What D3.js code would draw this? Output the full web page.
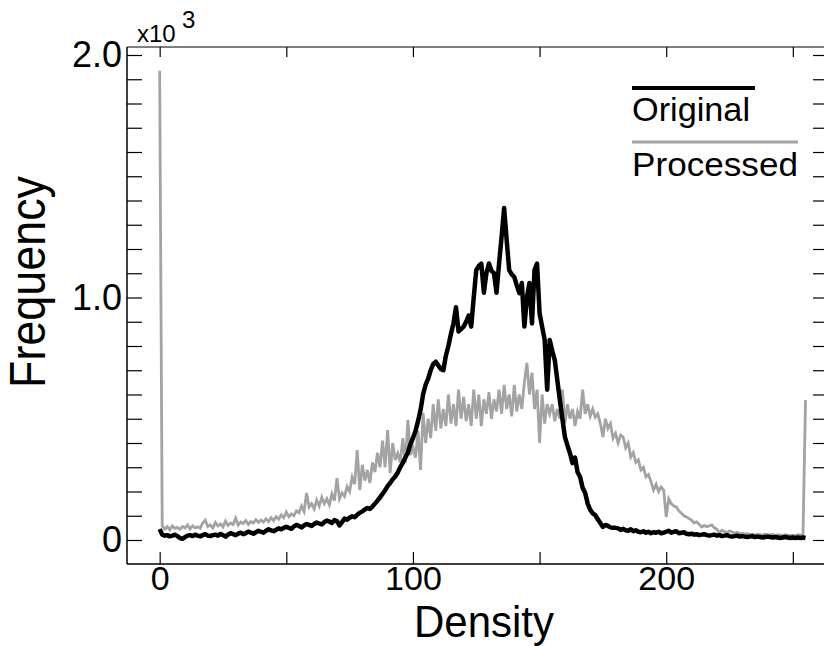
<!DOCTYPE html>
<html>
<head>
<meta charset="utf-8">
<script src="https://cdn.jsdelivr.net/npm/d3@7"></script>
<style>
  html, body { margin: 0; padding: 0; background: #fff; }
  svg { display: block; }
  text { font-family: "Liberation Sans", Arial, sans-serif; fill: #000; }
</style>
</head>
<body>
<svg id="chart" width="824" height="646"></svg>
<script>
// ---- data ----
const bins = d3.range(256);

const original = [
  45, 22, 18, 20, 15, 18, 22, 16, 8, 5,
  12, 18, 20, 16, 22, 18, 15, 20, 24, 18,
  16, 20, 22, 18, 25, 20, 14, 22, 28, 24,
  20, 26, 30, 24, 28, 35, 30, 26, 32, 38,
  34, 30, 38, 44, 40, 36, 42, 48, 44, 50,
  55, 50, 46, 56, 62, 58, 52, 60, 66, 62,
  58, 66, 72, 68, 64, 74, 80, 76, 70, 82,
  78, 60, 74, 88, 84, 92, 98, 94, 104, 112,
  118, 126, 132, 128, 138, 150, 162, 176, 190, 205,
  222, 235, 250, 262, 278, 300, 318, 340, 360, 395,
  420, 450, 490, 536, 600, 640, 665, 700, 725, 735,
  720, 705, 700, 760, 800, 850, 893, 960, 860, 870,
  880, 900, 925, 880, 1000, 1113, 1130, 1140, 1020, 1100,
  1140, 1110, 1100, 1020, 1140, 1250, 1369, 1237, 1113, 1095,
  1085, 1050, 1018, 1060, 880, 1000, 1060, 893, 1113, 1140,
  935, 880, 825, 620, 825, 780, 742, 660, 577, 500,
  425, 390, 358, 317, 340, 280, 260, 215, 194, 150,
  124, 110, 103, 85, 70, 54, 62, 58, 52, 50,
  50, 48, 42, 46, 40, 38, 44, 36, 40, 34,
  32, 36, 30, 34, 28, 32, 30, 34, 28, 30,
  34, 38, 30, 34, 36, 28, 30, 32, 26, 24,
  26, 22, 24, 20, 22, 24, 20, 18, 20, 22,
  18, 20, 16, 18, 20, 16, 14, 16, 18, 14,
  16, 14, 12, 14, 16, 12, 14, 12, 10, 12,
  14, 12, 10, 12, 10, 8, 10, 12, 10, 8,
  10, 8, 10, 8, 10, 8
];

const processed = [
  1935, 60, 45, 55, 42, 58, 48, 52, 44, 56,
  50, 62, 46, 58, 50, 54, 48, 70, 82, 55,
  62, 50, 72, 58, 66, 54, 78, 60, 70, 64,
  90, 62, 74, 68, 80, 64, 76, 70, 84, 72,
  82, 74, 88, 76, 92, 80, 96, 86, 104, 92,
  115, 96, 108, 100, 120, 112, 140, 118, 194, 136,
  150, 128, 165, 140, 176, 150, 170, 145, 190, 162,
  255, 170, 194, 180, 220, 200, 260, 230, 371, 206,
  310, 245, 289, 235, 320, 280, 360, 300, 410, 300,
  453, 276, 400, 330, 358, 320, 420, 317, 495, 350,
  383, 340, 450, 289, 524, 400, 500, 420, 560, 450,
  580, 460, 540, 470, 600, 480, 560, 470, 620, 500,
  590, 490, 560, 470, 620, 500, 600, 470, 580, 520,
  610, 500, 580, 530, 620, 520, 640, 540, 600, 510,
  640, 530, 600, 540, 650, 730, 600, 690, 540, 620,
  400, 600, 480, 560, 520, 560, 490, 540, 500, 620,
  480, 560, 500, 540, 470, 530, 500, 620, 520, 560,
  510, 540, 507, 520, 480, 425, 500, 460, 480, 420,
  440, 400, 433, 425, 380, 400, 342, 360, 320, 330,
  289, 300, 260, 270, 240, 206, 230, 200, 219, 206,
  95, 170, 150, 140, 136, 120, 110, 100, 95, 88,
  82, 70, 75, 65, 54, 60, 55, 58, 62, 50,
  45, 29, 40, 35, 30, 38, 33, 28, 32, 26,
  28, 24, 26, 22, 25, 20, 24, 22, 20, 24,
  22, 20, 24, 18, 22, 20, 18, 22, 20, 18,
  20, 18, 22, 20, 18, 577
];

const xTicks = [0, 50, 100, 150, 200, 250];
const xTickLabels = {0: "0", 100: "100", 200: "200"};
const yTicks = d3.range(0, 2001, 100);
const yTickLabels = {0: "0", 1000: "1.0", 2000: "2.0"};
const seriesNames = ["Original", "Processed"];

// ---- drawing ----
const svg = d3.select("#chart");
const L = 127, R = 824, T = 47, B = 564;

const x = d3.scaleLinear().domain([-12.9, 262.3]).range([L, R]);
const y = d3.scaleLinear().domain([-99, 2033]).range([B, T]);

// bottom axis
const gx = svg.append("g").attr("transform", `translate(0,${B})`)
  .call(d3.axisBottom(x).tickValues(xTicks).tickSizeInner(-12).tickSizeOuter(0)
    .tickPadding(2).tickFormat(d => xTickLabels[d] || ""));
// top axis
const gxt = svg.append("g").attr("transform", `translate(0,${T})`)
  .call(d3.axisTop(x).tickValues(xTicks).tickSizeInner(-10).tickSizeOuter(0).tickFormat(""));
// left axis
const gy = svg.append("g").attr("transform", `translate(${L},0)`)
  .call(d3.axisLeft(y).tickValues(yTicks).tickSizeInner(-15).tickSizeOuter(0)
    .tickPadding(5).tickFormat(d => yTickLabels[d] || ""));
// right axis (its frame line falls just outside the picture)
const gyr = svg.append("g").attr("transform", `translate(${R + 2},0)`)
  .call(d3.axisRight(y).tickValues(yTicks).tickSizeInner(-13).tickSizeOuter(0).tickFormat(""));

[gx, gxt, gy, gyr].forEach(g => {
  g.select(".domain").attr("stroke", "#000").attr("stroke-width", 1.5);
  g.selectAll(".tick line").attr("stroke", "#000").attr("stroke-width", 1.2);
  g.selectAll(".tick text")
    .attr("font-family", '"Liberation Sans", Arial, sans-serif').attr("fill", "#000");
});
gy.selectAll(".tick text").attr("font-size", 36);
gx.selectAll(".tick text").attr("font-size", 34);
gy.select(".domain").attr("d", `M0,${B}V${T}`);
gx.select(".domain").attr("d", `M${L},0H${R}`);
gxt.select(".domain").attr("d", `M${L},0H${R}`).attr("stroke-width", 1);

// lines
const line = d3.line().x((d, i) => x(bins[i])).y(d => y(d)).curve(d3.curveLinear);

svg.append("path").datum(processed)
  .attr("fill", "none").attr("stroke", "#a3a3a3").attr("stroke-width", 2.8)
  .attr("stroke-linejoin", "miter").attr("d", line);

svg.append("path").datum(original)
  .attr("fill", "none").attr("stroke", "#000").attr("stroke-width", 4.5)
  .attr("stroke-linejoin", "round").attr("d", line);

// exponent label
svg.append("text").attr("x", 137).attr("y", 42).attr("font-size", 24).text("x10");
svg.append("text").attr("x", 182).attr("y", 28).attr("font-size", 24).text("3");

// axis titles
svg.append("text").attr("x", 484).attr("y", 637).attr("text-anchor", "middle")
  .attr("font-size", 44).attr("textLength", 140).attr("lengthAdjust", "spacingAndGlyphs")
  .text("Density");
svg.append("text").attr("transform", "translate(45,282) rotate(-90)")
  .attr("text-anchor", "middle").attr("font-size", 50)
  .attr("textLength", 212).attr("lengthAdjust", "spacingAndGlyphs")
  .text("Frequency");

// legend
const lg = svg.append("g");
lg.append("line").attr("x1", 632).attr("x2", 755).attr("y1", 88).attr("y2", 88)
  .attr("stroke", "#000").attr("stroke-width", 4);
lg.append("text").attr("x", 632).attr("y", 121).attr("font-size", 33)
  .attr("textLength", 118).attr("lengthAdjust", "spacingAndGlyphs").text(seriesNames[0]);
lg.append("line").attr("x1", 632).attr("x2", 798).attr("y1", 142).attr("y2", 142)
  .attr("stroke", "#a3a3a3").attr("stroke-width", 3);
lg.append("text").attr("x", 632).attr("y", 176).attr("font-size", 33)
  .attr("textLength", 166).attr("lengthAdjust", "spacingAndGlyphs").text(seriesNames[1]);
</script>
</body>
</html>
